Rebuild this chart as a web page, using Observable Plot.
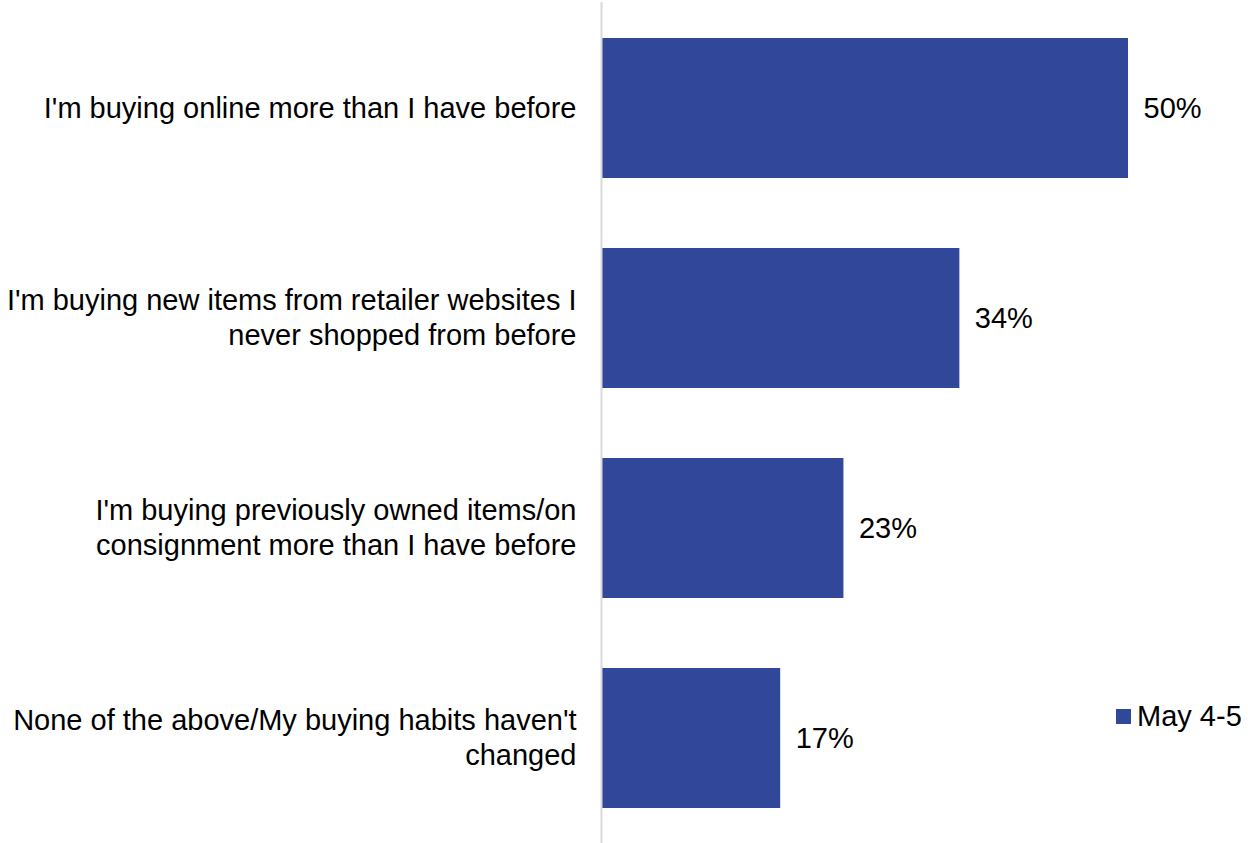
<!DOCTYPE html>
<html>
<head>
<meta charset="utf-8">
<script src="https://cdn.jsdelivr.net/npm/d3@7"></script>
<script src="https://cdn.jsdelivr.net/npm/@observablehq/plot@0.6"></script>
<style>
  html, body { margin: 0; padding: 0; background: #fff; }
  #wrap { position: relative; width: 1248px; height: 843px; font-family: "Liberation Sans", Arial, sans-serif; }
  #legend { position: absolute; left: 1116px; top: 700px; width: 132px; white-space: nowrap; }
  #legend * { white-space: nowrap; }
  #legend span > svg { margin-right: 6px !important; }
</style>
</head>
<body>
<div id="wrap"><div id="legend"></div></div>
<script>
const categories = [
  "I'm buying online more than I have before",
  "I'm buying new items from retailer websites I never shopped from before",
  "I'm buying previously owned items/on consignment more than I have before",
  "None of the above/My buying habits haven't changed"
];
const labels = [
  "I'm buying online more than I have before",
  "I'm buying new items from retailer websites I\nnever shopped from before",
  "I'm buying previously owned items/on\nconsignment more than I have before",
  "None of the above/My buying habits haven't\nchanged"
];
const values = [50, 34, 23, 17];
const seriesName = "May 4-5";
const barColor = "#314799";

const data = categories.map((c, i) => ({category: c, label: labels[i], value: values[i]}));

const chart = Plot.plot({
  width: 1248,
  height: 843,
  marginLeft: 601,
  marginRight: 120,
  marginTop: 2,
  marginBottom: 0,
  style: {fontFamily: "Liberation Sans, Arial, sans-serif", fontSize: "29px", color: "#000", background: "#fff"},
  x: {domain: [0, 50], axis: null},
  y: {domain: categories, axis: null, paddingInner: 1/3, paddingOuter: 1/6},
  marks: [
    Plot.barX(data, {y: "category", x: "value", fill: barColor}),
    Plot.ruleX([0], {stroke: "#d9d9d9", strokeWidth: 2}),
    Plot.text(data, {y: "category", x: 0, text: "label", textAnchor: "end", dx: -25, dy: -2, lineHeight: 1.2, fill: "#000", fontSize: 29}),
    Plot.text(data, {y: "category", x: "value", text: d => d.value + "%", textAnchor: "start", dx: 15, fill: "#000", fontSize: 29})
  ]
});
document.getElementById("wrap").prepend(chart);

const leg = Plot.legend({
  color: {type: "ordinal", domain: [seriesName], range: [barColor]},
  swatchSize: 15,
  style: {fontFamily: "Liberation Sans, Arial, sans-serif", fontSize: "29px", color: "#000", marginLeft: 0}
});
document.getElementById("legend").appendChild(leg);
</script>
</body>
</html>
